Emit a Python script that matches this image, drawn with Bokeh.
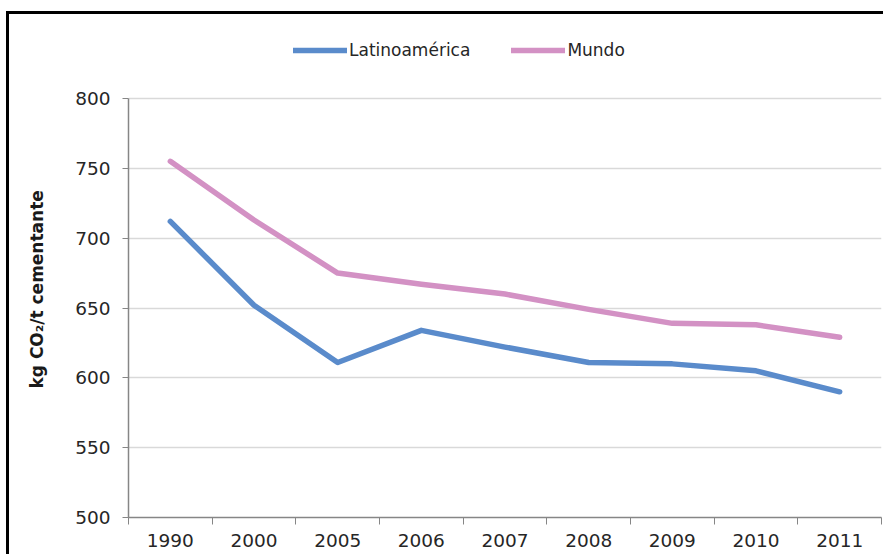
from bokeh.plotting import figure
from bokeh.models import Range1d, FixedTicker, Legend, LegendItem, Title
from bokeh.embed import file_html
from bokeh.resources import INLINE

# Emisiones específicas de CO2 por tonelada de material cementante
years = ["1990", "2000", "2005", "2006", "2007", "2008", "2009", "2010", "2011"]
latinoamerica = [712, 652, 611, 634, 622, 611, 610, 605, 590]
mundo = [755, 713, 675, 667, 660, 649, 639, 638, 629]
y_ticks = [500, 550, 600, 650, 700, 750, 800]

FONT = "DejaVu Sans"
BLUE = "#5A8BCB"
PINK = "#D391C4"

# one slot per year, each line point sits in the middle of its slot
x_pos = [i + 0.5 for i in range(len(years))]

# the frame reaches the top of the canvas so the legend row fits inside it;
# axis and grid stop at the last tick (800 sits 419 px above 500)
PLOT_H = 419
HEADROOM = 98
y_top = y_ticks[-1] + HEADROOM * (y_ticks[-1] - y_ticks[0]) / PLOT_H

p = figure(width=883, height=554, output_backend="svg", toolbar_location=None,
           x_range=Range1d(0, len(years)), y_range=Range1d(y_ticks[0], y_top),
           min_border_left=128, min_border_top=0, min_border_right=2,
           min_border_bottom=37)
# black frame on the top and left edges of the chart box, drawn over the canvas
p.stylesheets = [
    ":host { position: relative; }"
    ":host::after { content: ''; position: absolute; left: 6px; top: 11px;"
    " right: 0; bottom: 0; border-left: 3px solid black;"
    " border-top: 3px solid black; pointer-events: none; z-index: 100; }"
]
p.outline_line_color = None
p.background_fill_color = "white"
p.border_fill_color = "white"

r_lat = p.line(x_pos, latinoamerica, line_color=BLUE, line_width=5.5,
               line_cap="round", line_join="round")
r_mun = p.line(x_pos, mundo, line_color=PINK, line_width=5.5,
               line_cap="round", line_join="round")

# x axis: labels centred in each slot, tick marks on slot boundaries
xa = p.xaxis[0]
xa.ticker = FixedTicker(ticks=x_pos, minor_ticks=list(range(len(years) + 1)))
xa.major_label_overrides = {x: y for x, y in zip(x_pos, years)}
xa.major_tick_out = 0
xa.major_tick_in = 0
xa.minor_tick_out = 7
xa.minor_tick_in = 0
xa.minor_tick_line_color = "#868686"
xa.axis_line_color = "#868686"
xa.axis_line_width = 1.5
xa.major_label_text_font = FONT
xa.major_label_text_font_size = "18.5px"
xa.major_label_text_color = "#262626"
xa.major_label_standoff = 9

ya = p.yaxis[0]
ya.ticker = FixedTicker(ticks=y_ticks, minor_ticks=[])
ya.bounds = (y_ticks[0], y_ticks[-1])
ya.major_tick_out = 6
ya.major_tick_in = 0
ya.major_tick_line_color = "#868686"
ya.axis_line_color = "#868686"
ya.axis_line_width = 1.5
ya.major_label_text_font = FONT
ya.major_label_text_font_size = "18.5px"
ya.major_label_text_color = "#262626"
ya.major_label_standoff = 12

# y axis title, placed a little above the middle of the axis
ytitle = Title(text="kg CO₂/t cementante", align="left", offset=129,
               standoff=48, vertical_align="top", text_font=FONT,
               text_font_style="bold", text_font_size="17px",
               text_color="#1a1a1a")
p.add_layout(ytitle, "left")

p.xgrid.grid_line_color = None
p.ygrid.ticker = FixedTicker(ticks=y_ticks)
p.ygrid.grid_line_color = "#D9D9D9"
p.ygrid.grid_line_width = 1.5

legend = Legend(items=[LegendItem(label="Latinoamérica", renderers=[r_lat]),
                       LegendItem(label="Mundo", renderers=[r_mun])],
                location=(165, 457), orientation="horizontal",
                glyph_width=54, glyph_height=20, label_standoff=2, spacing=41,
                padding=0, margin=0, border_line_alpha=0,
                background_fill_alpha=0,
                label_text_font=FONT, label_text_font_size="17px",
                label_text_color="#262626")
p.add_layout(legend, "center")

open("out.html", "w").write(file_html(p, INLINE))
